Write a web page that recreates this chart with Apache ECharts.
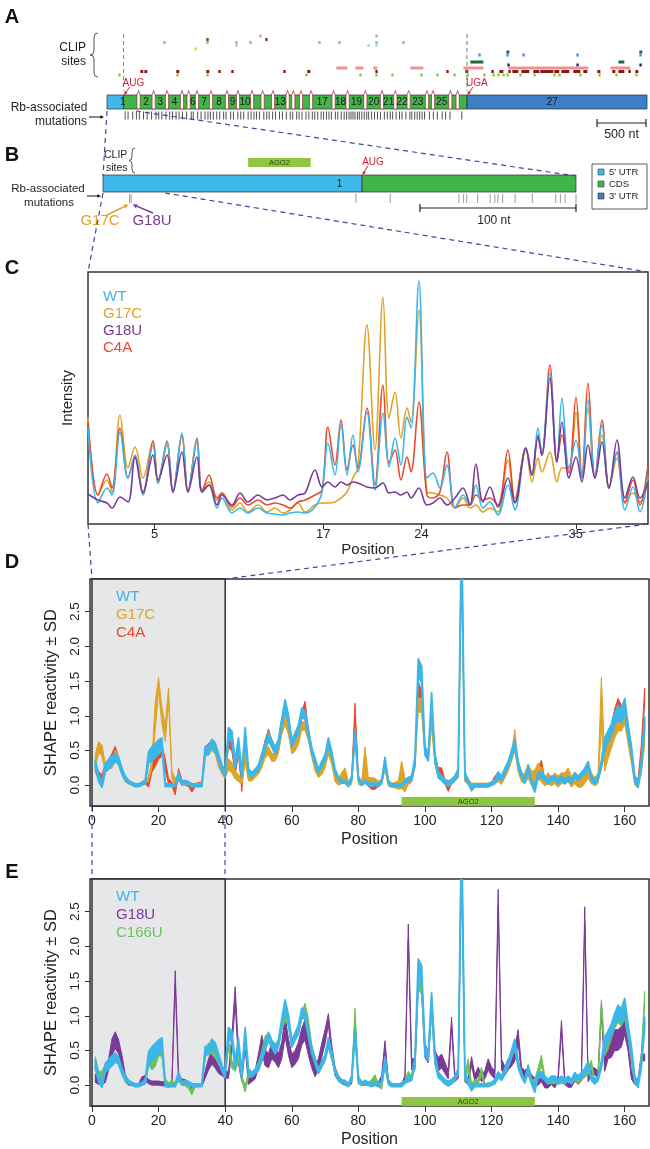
<!DOCTYPE html>
<html><head><meta charset="utf-8">
<script src="https://cdn.jsdelivr.net/npm/echarts@6/dist/echarts.min.js"></script>
<style>html,body{margin:0;padding:0;background:#fff}#c{width:650px;height:1149px}</style>
</head><body><div id="c"></div>
<script>
// ================= DATA =================
// ---- Panel A: RB1 mRNA (nt) ----
const MRNA_LEN = 5510;
const AUG_NT = 169;
const UGA_NT = 3673;
const EXON_STARTS = [0,322,476,612,765,833,918,1061,1224,1337,1480,1588,1694,1843,1901,1980,2082,2312,2455,2636,2806,2942,3078,3265,3327,3503,3578];
const EXON_LABELED = [1,2,3,4,6,7,8,9,10,13,17,18,19,20,21,22,23,25,27];
const MUT_A = [185,215,262,300,330,372,410,455,500,528,560,602,640,668,705,735,770,812,860,880,925,960,1000,1030,1055,1085,1120,1150,1190,1215,1262,1290,1335,1365,1395,1440,1470,1500,1525,1555,1600,1630,1655,1690,1720,1760,1790,1830,1870,1895,1935,1960,1990,2030,2060,2095,2120,2150,2185,2210,2240,2265,2290,2330,2355,2390,2420,2445,2470,2490,2510,2530,2555,2575,2600,2625,2650,2670,2700,2730,2760,2790,2830,2860,2890,2915,2950,2985,3010,3050,3090,3110,3140,3165,3190,3215,3240,3290,3330,3370,3420,3455,3500,3620];
const SCALE_A = [5000, 5500];
// CLIP sites (nt ranges), one array per track
const CLIP_GRAY = [[1554,1575],[2738,2758]];
const CLIP_BROWN = [[1013,1034],[1615,1636]];
const CLIP_GREEN = [[574,595],[1013,1034],[1309,1330],[1452,1473],[2156,2177],[2360,2381],[2738,2758],[3013,3034]];
const CLIP_CYAN = [[1309,1330],[2656,2677],[2738,2758]];
const CLIP_YELLOW = [[891,912]];
const CLIP_TEAL = [[4075,4106],[5432,5462]];
const CLIP_BLUE = [[3789,3810],[4075,4096],[4238,4259],[4789,4810],[5432,5453]];
const CLIP_DKGREEN = [[3707,3840],[5218,5279]];
const CLIP_NAVY = [[4085,4106],[4789,4810],[5432,5453]];
const CLIP_SALMON = [[2340,2452],[2534,2616],[2717,2758],[3095,3228],[3636,3840],[4095,4911],[5136,5340]];
const CLIP_DKRED = [[340,370],[381,411],[707,737],[1013,1044],[1136,1157],[1268,1289],[1799,1820],[2044,2075],[2738,2758],[3462,3483],[3656,3687],[3922,3942],[4003,4044],[4095,4115],[4136,4197],[4228,4309],[4350,4411],[4421,4554],[4564,4615],[4636,4717],[4758,4830],[4860,4901],[5003,5034],[5156,5187],[5218,5279],[5320,5340],[5391,5422]];
const CLIP_LTGREEN = [[115,136],[707,728],[1013,1034],[2023,2044],[2574,2595],[2738,2758],[2901,2922],[3197,3218],[3360,3381],[3534,3555],[3666,3687],[3840,3861],[3932,3952],[3983,4003],[4034,4054],[4075,4095],[4207,4228],[4350,4370],[4554,4575],[4605,4625],[4820,4840],[5013,5034],[5187,5208],[5391,5411]];

// ---- Panel B: exon 1 region (nt) ----
const B_END = 303;
const UTR5_END = 166;
const AGO2_SITE = [93, 133];
const MUT_B = [17,18,162,184,228,231,233,240,248,251,253,256,264,275,290,293,296,303];
const SCALE_B = [203, 303];

// ---- Panel C: capillary trace (position, intensity a.u.) ----
const C_TICKS = [5,17,24,35];
const C_X = [0.25,0.96,1.60,1.96,2.53,3.10,3.60,4.17,4.88,5.24,5.88,6.30,6.94,7.37,8.01,8.37,8.87,9.44,9.79,10.51,11.08,11.64,12.36,13.00,13.57,14.14,14.64,15.21,15.71,16.42,16.92,17.34,17.84,18.27,18.70,19.12,19.48,20.12,20.69,21.26,21.69,22.12,22.54,22.97,23.26,23.82,24.39,24.82,25.32,25.82,26.39,26.96,27.46,27.88,28.38,28.88,29.45,30.16,30.66,31.44,31.87,32.30,32.58,33.15,33.65,34.01,34.51,35.01,35.43,35.86,36.36,36.86,37.36,37.93,38.50,39.07,39.57,40.14];
const WT_C = [48,10.5,18,14.5,46,23,34.5,14.5,39.5,20.5,41,16,45.5,16,42,16,19.5,8,13,5.5,8,5.5,8,5.5,5,4.5,5.5,6,5.5,8.5,16,40.5,24.5,50,24.5,44.5,26,56,17,55.5,28.5,43,29.5,53.5,48,121.5,23,25.5,18,29.5,8,14.5,9.5,19.5,8,11,4.5,19.5,7,38,24.5,48,34.5,75.5,31,63,28,42,23,62,23,49.5,18,36,7,18.5,6,24.5];
const G17C_C = [53.5,14.5,22,16,54.5,28,38.5,23,41.5,20.5,39.5,16,44.5,16,41,17,21,12,15.5,7,10.5,6,9.5,6,8,5.5,7,10.5,6,9.5,10.5,10.5,11,13,16,23,28.5,99.5,37,113.5,53,66,43,58,51,107,16,15.5,14.5,13,8,13,8,9.5,6,8,6,32,13,37,21,33,26,36,21,28,28,56,23,58,23,44.5,18,33,11,15.5,11,23];
const G18U_C = [15,12,10.5,8,13.5,11,33.5,15.5,34.5,22,34.5,16,36,16,33.5,16,19.5,9.5,14.5,9.5,15.5,11,14.5,12,13,14.5,12,14.5,15.5,27,18.5,21,18.5,21,19.5,21,20.5,18.5,18,20.5,15.5,16,14.5,16,13,18,9.5,10.5,13,9.5,13,18,9.5,30,11,18.5,8.5,23,10.5,38,24.5,43.5,34.5,73,31,51,23,33.5,21,39.5,23,41,18,42,13,23.5,13,21];
const C4A_C = [51,14.5,25,18,48,23,33.5,16,41.5,20.5,41.5,16,44.5,16,43,16,24.5,13,15.5,8.5,13,9.5,12,9.5,10.5,9.5,8,11,12,14.5,17,48.5,29.5,52,27,39.5,28,58,19.5,69.5,30.5,37,22,33.5,26,61,14.5,13,16,36,8,9.5,9.5,14.5,12,13,9.5,37,11,38,24.5,44.5,34.5,79.5,31,44.5,25.5,63.5,23,70.5,23,52,18,36,10.5,22,9.5,29.5];

// ---- Panels D/E: SHAPE reactivity, positions 1..166 (mean and SD) ----
const D_TICKS_X = [0,20,40,60,80,100,120,140,160];
const D_TICKS_Y = [0,0.5,1,1.5,2,2.5];
const SHADED = [0, 40];
const WT_M = [0.3,0.1,0,0.25,0.3,0.35,0.4,0.35,0.2,0.1, 0.05,0.02,0,0,0.02,0.05,0.4,0.45,0.5,0.55, 0.6,0,0,0,0,0.15,0.02,0.05,0.03,0, 0,0,0,0.5,0.5,0.6,0.55,0.4,0.25,0.15, 0.75,0.7,0.3,0.6,0.15,0.75,0.2,0.15,0.2,0.25, 0.4,0.55,0.7,0.6,0.5,0.6,0.9,1.15,0.95,0.6, 0.7,0.8,1.05,1.0,0.75,0.5,0.35,0.2,0.3,0.4, 0.62,0.45,0.2,0.1,0.05,0.05,0,0.1,0.75,0.1, 0.02,0.05,0.02,0,0.02,0,0.05,0.35,0.05,0, 0,0,0,0.05,0.08,0.1,0.35,1.7,1.6,0.5, 0.4,1.25,0.4,0.15,0.1,0.05,0.02,0.05,0.1,0.2, 3.6,0.15,0.05,-0.05,0,0,0,0,0,0.02, 0.05,0.15,0.1,0.2,0.3,0.45,0.6,0.3,0.15,0.05, 0.25,0.05,-0.05,0.15,0.15,0.1,0.05,0.1,0.1,0.05, 0.1,0.05,0.1,0.05,0.15,0.1,0.15,0.2,0.3,0.1, 0.05,0.1,0.3,0.6,0.7,0.8,0.95,1.05,1.0,1.15, 0.8,0.5,0.1,0,0.3,0.9];
const WT_SD = [.06,.05,.03,.06,.07,.07,.06,.05,.04,.03, .02,.02,.02,.02,.02,.03,.08,.1,.1,.1, .08,.02,.02,.02,.02,.04,.02,.02,.02,.02, .02,.02,.02,.06,.06,.06,.06,.05,.04,.04, .08,.08,.05,.08,.04,.08,.04,.03,.03,.04, .05,.05,.06,.05,.05,.05,.06,.08,.06,.05, .05,.06,.06,.06,.05,.04,.04,.03,.04,.04, .06,.04,.03,.02,.02,.02,.02,.03,.05,.03, .02,.02,.02,.02,.02,.02,.02,.05,.02,.02, .02,.02,.02,.02,.03,.03,.05,.12,.12,.06, .05,.08,.05,.04,.03,.03,.03,.03,.03,.04, .2,.04,.03,.03,.02,.02,.02,.02,.02,.02, .03,.04,.03,.04,.04,.05,.06,.04,.03,.02, .04,.03,.05,.04,.04,.03,.03,.03,.03,.03, .03,.03,.03,.03,.03,.03,.03,.04,.04,.03, .03,.03,.05,.08,.08,.08,.08,.1,.1,.1, .08,.06,.04,.03,.05,.08];
const G17C_M = [0.35,0.55,0.5,0.25,0.3,0.3,0.45,0.35,0.2,0.08, 0.04,0.02,0,0,0.02,0.04,0.1,0.3,1.0,1.45, 1.0,0.75,1.3,0.15,0.05,0.1,0.02,0.03,0.02,0, 0,0,0,0.45,0.5,0.55,0.5,0.3,0.2,0.15, 0.3,0.25,0.15,0.1,0.05,0.4,0.1,0.1,0.15,0.2, 0.3,0.45,0.5,0.4,0.4,0.5,0.8,0.95,0.8,0.5, 0.55,0.65,0.85,0.85,0.7,0.45,0.25,0.15,0.2,0.3, 0.5,0.35,0.1,0.05,0.1,0.15,0.02,0.05,0.75,0.05, 0.02,0.3,0.05,0.05,0.05,0.02,0.05,0.3,0.02,0, 0,0,0.15,0,0.05,0.08,0.3,1.15,1.15,0.5, 0.4,0.9,0.35,0.15,0.1,0.05,0.03,0.05,0.1,0.15, 3.5,0.1,0.05,0,0,0,0,0,0,0.02, 0.05,0.1,0.05,0.15,0.25,0.4,0.65,0.25,0.1,0.1, 0.2,0.1,0.1,0.2,0.15,0.05,0.1,0.05,0.1,0.05, 0.1,0.1,0.15,0.05,0.1,0.05,0.05,0.1,0.2,0.1, 0.05,0.1,1.2,0.3,0.5,0.65,0.8,0.9,0.9,1.0, 0.7,0.4,0.05,0,0.25,0.7];
const G17C_SD = [.1,.08,.08,.06,.06,.06,.06,.05,.04,.03, .02,.02,.02,.02,.02,.02,.03,.06,.2,.1, .12,.12,.1,.05,.05,.04,.02,.02,.02,.02, .02,.02,.02,.05,.05,.05,.05,.04,.04,.05, .08,.08,.06,.05,.04,.08,.04,.04,.04,.04, .05,.06,.06,.06,.05,.05,.07,.08,.07,.05, .06,.06,.06,.06,.06,.05,.05,.04,.05,.05, .06,.05,.05,.05,.08,.1,.03,.04,.06,.04, .03,.25,.06,.06,.05,.04,.04,.08,.04,.03, .04,.06,.2,.1,.04,.04,.05,.1,.1,.06, .05,.08,.05,.04,.04,.04,.04,.04,.04,.05, .2,.05,.04,.03,.03,.03,.03,.03,.03,.03, .03,.05,.04,.05,.05,.06,.15,.06,.05,.08, .1,.1,.12,.12,.1,.06,.08,.06,.08,.08, .08,.08,.1,.08,.08,.08,.08,.08,.1,.08, .06,.08,.35,.1,.12,.12,.12,.12,.12,.12, .1,.08,.05,.04,.08,.12];
const C4A_M = [0.25,0.15,0.1,0.25,0.3,0.4,0.5,0.35,0.2,0.08, 0.04,0.02,0,0,0.02,0.04,0,0.25,0.35,0.45, 0.5,0.3,0.05,0.02,-0.1,0.2,0.05,0.02,0,-0.07, 0,0.02,0.02,0.5,0.55,0.6,0.55,0.4,0.25,0.2, 0.6,0.55,0.2,0.5,-0.05,0.6,0.15,0.15,0.2,0.25, 0.4,0.6,0.75,0.6,0.5,0.6,0.9,1.1,0.9,0.6, 0.7,0.8,1.0,1.15,0.75,0.5,0.3,0.15,0.25,0.35, 0.6,0.4,0.15,0.1,0.05,0.05,0,0.1,1.1,0.1, 0.02,0.05,0,-0.03,-0.03,0,0.05,0.35,0.05,0, 0,0,0,0.05,0.08,0.1,0.3,1.4,1.25,0.5, 0.4,1.1,0.4,0.2,0.2,0.05,-0.05,0.05,0.1,0.2, 3.5,0.1,0.05,-0.05,0,0,0,0,0,0.02, 0.1,0.15,0.1,0.2,0.3,0.45,0.55,0.3,0.15,0.05, 0.25,0.05,0,0.2,0.3,0.05,0.05,0.1,0.1,0.05, 0.1,0.05,0.1,0.05,0.15,0.1,0.15,0.2,0.25,0.1, 0.05,0.1,0.3,0.55,0.7,0.8,1.0,1.15,1.05,1.0, 0.8,0.5,0.1,0.05,0.5,1.3];
const C4A_SD = [.06,.05,.05,.06,.06,.06,.06,.05,.04,.03, .02,.02,.02,.02,.02,.02,.03,.06,.08,.08, .08,.08,.04,.03,.04,.04,.03,.02,.02,.03, .02,.02,.02,.05,.05,.05,.05,.05,.04,.04, .06,.06,.05,.06,.04,.06,.04,.03,.03,.04, .05,.05,.06,.05,.05,.05,.06,.07,.06,.05, .05,.06,.06,.06,.05,.04,.04,.03,.04,.04, .05,.04,.03,.02,.02,.02,.02,.03,.08,.03, .02,.02,.02,.03,.03,.02,.02,.04,.02,.02, .02,.02,.02,.02,.03,.03,.04,.1,.1,.06, .05,.08,.05,.05,.05,.03,.04,.03,.03,.04, .2,.04,.03,.03,.02,.02,.02,.02,.02,.02, .03,.04,.03,.04,.04,.05,.06,.04,.03,.02, .04,.03,.04,.05,.06,.03,.03,.03,.03,.03, .03,.03,.03,.03,.03,.03,.03,.04,.04,.03, .03,.03,.05,.08,.08,.08,.1,.1,.1,.1, .08,.06,.04,.03,.08,.1];
const G18U_M = [0.1,0.05,0.05,0.1,0.3,0.55,0.65,0.55,0.35,0.1, 0.03,0.02,0,0,0.08,0.1,0.05,0.03,0.03,0.03, 0.02,0.02,0,0.02,1.55,0.1,0.05,0.05,0.02,-0.05, 0,0,0,0.15,0.3,0.4,0.35,0.25,0.2,0.15, 0.15,0.6,1.3,0.4,0.1,0.65,0.05,0.1,0.15,0.35, 0.6,0.4,0.35,0.5,0.45,0.35,0.5,0.85,0.55,0.35, 0.4,0.5,0.7,0.8,0.55,0.35,0.2,0.3,0.5,0.7, 0.95,0.5,0.2,0.1,0.05,0.03,0,0.05,0.9,0.05, 0.02,0.02,0.02,0.02,0.02,0.02,0.1,0.58,0.05,0, 0,0,0,0.1,2.2,0.3,0.3,1.5,1.5,0.5, 0.4,1.2,0.4,0.3,0.35,0.25,0.15,0.9,0.1,0.15, 3.5,0.1,0.05,0.35,0.1,0.2,0.1,0.15,0.3,0.2, 0.15,2.7,0.3,0.2,0.3,0.35,0.45,0.7,0.2,0.15, 0.2,0.1,0.05,0.05,0.1,0,0,0.05,0,0.1, 0.85,0.05,0,0,0.1,0.05,0.1,2.45,0.1,0.2, 0.2,0.15,1.1,0.3,0.5,0.55,0.65,0.65,0.7,0.85, 0.6,0.15,0.05,0.05,0.4,0.4];
const G18U_SD = [.06,.04,.04,.06,.08,.12,.12,.1,.08,.05, .03,.02,.02,.02,.04,.04,.03,.03,.03,.03, .03,.03,.03,.03,.1,.05,.04,.03,.03,.03, .02,.02,.02,.05,.08,.1,.1,.08,.06,.05, .05,.1,.12,.1,.05,.12,.04,.05,.06,.1, .12,.12,.1,.12,.12,.1,.12,.15,.12,.1, .1,.12,.12,.15,.12,.1,.08,.08,.1,.1, .08,.08,.06,.04,.03,.03,.02,.03,.08,.03, .02,.02,.02,.02,.02,.02,.04,.06,.03,.02, .02,.02,.02,.04,.12,.08,.08,.1,.1,.1, .08,.1,.1,.1,.1,.08,.06,.08,.05,.05, .2,.05,.04,.06,.05,.06,.05,.06,.08,.06, .06,.12,.08,.06,.08,.08,.1,.1,.06,.06, .06,.05,.05,.05,.05,.04,.04,.04,.04,.04, .08,.04,.03,.03,.04,.04,.04,.12,.05,.05, .05,.05,.08,.1,.12,.15,.15,.15,.15,.12, .1,.06,.04,.04,.05,.05];
const C166U_M = [0.35,0.15,0.15,0.25,0.3,0.35,0.4,0.35,0.2,0.08, 0.04,0.02,0,0,0.02,0.05,0.35,0.3,0.35,0.5, 0.5,0.05,0,0.05,0,0.1,0.03,0.02,-0.02,-0.1, 0,0,0,0.45,0.55,0.5,0.45,0.35,0.25,0.15, 0.6,0.3,0.25,0.4,0.1,-0.05,0.15,0.15,0.2,0.3, 0.45,0.65,0.7,0.6,0.55,0.6,0.85,1.0,0.9,0.6, 0.7,0.8,1.0,1.1,0.9,0.55,0.35,0.2,0.3,0.4, 0.6,0.4,0.2,0.1,0.05,0.03,0,0.1,1.05,0.05, 0.02,0.02,0.02,0.05,0.1,0,-0.03,0.3,0.02,0, 0,0,0.02,0.05,0.15,0.1,0.3,1.5,1.4,0.5, 0.4,1.1,0.35,0.15,0.1,0.05,0.03,0.05,0.1,0.2, 3.5,0.1,0.3,0,0.05,0.05,0.2,0,0.02,0.02, 0.05,0.15,0.1,0.2,0.3,0.45,0.55,0.3,0.15,0.05, 0.2,0.05,0.05,0.2,0.35,0.1,0.05,0.05,0.05,0.05, 0.05,0.05,0.1,0.05,0.1,0.05,0.1,0.15,0.2,0.3, 0.05,0.1,1.15,0.5,0.6,0.75,0.9,1.0,0.95,1.05, 0.75,0.4,0.05,0,0.4,1.25];
const C166U_SD = [.06,.05,.05,.06,.06,.06,.06,.05,.04,.03, .02,.02,.02,.02,.02,.02,.06,.08,.08,.08, .08,.05,.03,.03,.03,.03,.03,.03,.03,.04, .02,.02,.02,.06,.06,.06,.06,.05,.04,.04, .06,.06,.05,.06,.04,.05,.04,.03,.03,.04, .05,.06,.06,.05,.05,.05,.06,.08,.06,.05, .05,.06,.06,.08,.06,.04,.04,.03,.04,.04, .05,.04,.03,.02,.02,.02,.02,.03,.06,.03, .02,.02,.02,.03,.05,.02,.03,.04,.02,.02, .02,.02,.02,.02,.05,.03,.04,.1,.1,.06, .05,.08,.05,.04,.03,.03,.03,.03,.03,.04, .2,.04,.08,.03,.03,.03,.06,.02,.02,.02, .03,.04,.03,.04,.04,.05,.06,.04,.03,.02, .04,.03,.04,.05,.08,.03,.03,.03,.03,.03, .03,.03,.03,.03,.03,.03,.03,.04,.05,.06, .03,.03,.08,.08,.08,.08,.08,.1,.1,.1, .08,.06,.04,.03,.06,.1];

// ================= STYLE / LAYOUT =================
const FONT = '"Liberation Sans", Arial, Helvetica, sans-serif';
const INK = '#231f20';
const COL = {WT:'#3cb6e9', G17C:'#dea427', G18U:'#7b3a96', C4A:'#e84a2b', C166U:'#6fc05a'};
const REGION_COLORS = ['#3fb8ea', '#41b549', '#3d7ec5'];
const CLIP_TRACKS = [CLIP_GRAY, CLIP_BROWN, CLIP_GREEN, CLIP_CYAN, CLIP_YELLOW, CLIP_TEAL, CLIP_BLUE, CLIP_DKGREEN, CLIP_NAVY, CLIP_SALMON, CLIP_DKRED, CLIP_LTGREEN];
const CLIP_COLORS = ['#b3b3b3','#8b3b1c','#98c95a','#a6dde8','#f2cf1d','#1f5f5c','#4a8fd0','#1b6b3a','#1d2b79','#f0918c','#8b1717','#8dc63f'];
const LA = {barY:95, barH:14, mutY0:111.5, mutY1:119.5, trackY:[36,39.5,42.5,45.5,49,52,55,62,65,68,71.5,75], dashTop:34, dashBot:91, labelY:83, scaleY:123};
const LB = {barY:175, barH:17, mutY0:194, mutY1:203, agoY:158, agoH:9, labelY:162, scaleY:208};
const RED = '#d3203b';

// ================= BUILD =================
const CLIP_ITEMS = [];
CLIP_TRACKS.forEach((arr, t) => arr.forEach(r => CLIP_ITEMS.push([r[0], r[1], t])));
const POS = WT_M.map((_, i) => i + 1);

function arrowEls(x1, y1, x2, y2, color, w, h) {
  const ang = Math.atan2(y2 - y1, x2 - x1), a = 0.45;
  const p1 = [x2 - h * Math.cos(ang - a), y2 - h * Math.sin(ang - a)];
  const p2 = [x2 - h * Math.cos(ang + a), y2 - h * Math.sin(ang + a)];
  return [
    {type:'line', shape:{x1, y1, x2: x2 - 0.6 * h * Math.cos(ang), y2: y2 - 0.6 * h * Math.sin(ang)}, style:{stroke:color, lineWidth:w}},
    {type:'polygon', shape:{points:[[x2, y2], p1, p2]}, style:{fill:color}}
  ];
}
function txtEl(x, y, text, size, fill, align, weight) {
  return {type:'text', x, y, style:{text, fill: fill || INK, font: (weight ? weight + ' ' : '') + size + 'px ' + FONT, align: align || 'center', verticalAlign:'middle'}};
}
const cx = (api, v) => api.coord([v, 0])[0];

const series = [];
// ---- Panel A ----
series.push({type:'custom', xAxisIndex:0, yAxisIndex:0, silent:true, z:3, data: CLIP_ITEMS,
  renderItem:(p, api) => { const a = cx(api, api.value(0)), b = cx(api, api.value(1)), t = api.value(2);
    return {type:'rect', shape:{x:a, y:LA.trackY[t] - 1.5, width:Math.max(b - a, 2.4), height:3}, style:{fill:CLIP_COLORS[t]}}; }});
series.push({type:'custom', xAxisIndex:0, yAxisIndex:0, silent:true, z:3,
  data: [[0, AUG_NT, 0], [AUG_NT, UGA_NT, 1], [UGA_NT, MRNA_LEN, 2]],
  renderItem:(p, api) => { const a = cx(api, api.value(0)), b = cx(api, api.value(1));
    return {type:'rect', shape:{x:a, y:LA.barY, width:b - a, height:LA.barH}, style:{fill:REGION_COLORS[api.value(2)], stroke:'#2b2b2b', lineWidth:0.7}}; }});
series.push({type:'custom', xAxisIndex:0, yAxisIndex:0, silent:true, z:4,
  data: EXON_STARTS.slice(1).map(s => [s, 0]),
  renderItem:(p, api) => { const x = cx(api, api.value(0)), t = LA.barY, b = LA.barY + LA.barH;
    return {type:'polygon', shape:{points:[[x - 1.6, b], [x - 1.6, t], [x, t - 4.5], [x + 1.6, t], [x + 1.6, b]]}, style:{fill:'#fff', stroke:'#9b2a2a', lineWidth:0.7}}; }});
series.push({type:'custom', xAxisIndex:0, yAxisIndex:0, silent:true, z:5,
  data: EXON_LABELED.map(n => [(EXON_STARTS[n - 1] + (n < EXON_STARTS.length ? EXON_STARTS[n] : MRNA_LEN)) / 2, n]),
  renderItem:(p, api) => txtEl(cx(api, api.value(0)), LA.barY + LA.barH / 2 + 0.5, String(api.value(1)), 10, '#1a1a1a')});
series.push({type:'custom', xAxisIndex:0, yAxisIndex:0, silent:true, z:3,
  data: MUT_A.map(v => [v, 0]),
  renderItem:(p, api) => { const x = cx(api, api.value(0));
    return {type:'line', shape:{x1:x, y1:LA.mutY0, x2:x, y2:LA.mutY1}, style:{stroke:'#3a3a3a', lineWidth:0.9}}; }});
series.push({type:'custom', xAxisIndex:0, yAxisIndex:0, silent:true, z:6,
  data: [[AUG_NT, 0], [UGA_NT, 0]],
  renderItem:(p, api) => { const x = cx(api, api.value(0));
    return {type:'group', children:[
      {type:'line', shape:{x1:x, y1:LA.dashTop, x2:x, y2:LA.dashBot}, style:{stroke:'#7a7a7a', lineWidth:1, lineDash:[4, 3]}},
      txtEl(x - 1, LA.labelY, p.dataIndex === 0 ? 'AUG' : 'UGA', 10, RED, 'left'),
      ...arrowEls(x + 6, 87, x + 0.5, 95, RED, 1, 4)
    ]}; }});
series.push({type:'custom', xAxisIndex:0, yAxisIndex:0, silent:true, z:6,
  data: [SCALE_A],
  renderItem:(p, api) => { const a = cx(api, api.value(0)), b = cx(api, api.value(1)), y = LA.scaleY;
    return {type:'group', children:[
      {type:'line', shape:{x1:a, y1:y, x2:b, y2:y}, style:{stroke:'#222', lineWidth:1.2}},
      {type:'line', shape:{x1:a, y1:y - 4, x2:a, y2:y + 4}, style:{stroke:'#222', lineWidth:1.2}},
      {type:'line', shape:{x1:b, y1:y - 4, x2:b, y2:y + 4}, style:{stroke:'#222', lineWidth:1.2}},
      txtEl((a + b) / 2, y + 12, (SCALE_A[1] - SCALE_A[0]) + ' nt', 12.5)
    ]}; }});

// ---- Panel B ----
series.push({type:'custom', xAxisIndex:1, yAxisIndex:1, silent:true, z:3,
  data: [[0, UTR5_END, 0], [UTR5_END, B_END, 1]],
  renderItem:(p, api) => { const a = cx(api, api.value(0)), b = cx(api, api.value(1));
    return {type:'rect', shape:{x:a, y:LB.barY, width:b - a, height:LB.barH}, style:{fill:REGION_COLORS[api.value(2)], stroke:'#2b2b2b', lineWidth:0.7}}; }});
series.push({type:'custom', xAxisIndex:1, yAxisIndex:1, silent:true, z:5,
  data: [[B_END / 2, 1]],
  renderItem:(p, api) => txtEl(cx(api, api.value(0)), LB.barY + LB.barH / 2 + 0.5, String(api.value(1)), 10, '#1a1a1a')});
series.push({type:'custom', xAxisIndex:1, yAxisIndex:1, silent:true, z:5,
  data: [AGO2_SITE],
  renderItem:(p, api) => { const a = cx(api, api.value(0)), b = cx(api, api.value(1));
    return {type:'group', children:[
      {type:'rect', shape:{x:a, y:LB.agoY, width:b - a, height:LB.agoH}, style:{fill:'#8dc63f'}},
      txtEl((a + b) / 2, LB.agoY + LB.agoH / 2, 'AGO2', 7.5, '#2d4a12')]}; }});
series.push({type:'custom', xAxisIndex:1, yAxisIndex:1, silent:true, z:3,
  data: MUT_B.map(v => [v, 0]),
  renderItem:(p, api) => { const x = cx(api, api.value(0));
    return {type:'line', shape:{x1:x, y1:LB.mutY0, x2:x, y2:LB.mutY1}, style:{stroke:'#9a9a9a', lineWidth:1}}; }});
series.push({type:'custom', xAxisIndex:1, yAxisIndex:1, silent:true, z:6,
  data: [[UTR5_END, 0]],
  renderItem:(p, api) => { const x = cx(api, api.value(0));
    return {type:'group', children:[txtEl(x, LB.labelY, 'AUG', 10, RED, 'left'), ...arrowEls(x + 5.5, 166, x + 0.5, 175, RED, 1, 4)]}; }});
series.push({type:'custom', xAxisIndex:1, yAxisIndex:1, silent:true, z:6,
  data: [SCALE_B],
  renderItem:(p, api) => { const a = cx(api, api.value(0)), b = cx(api, api.value(1)), y = LB.scaleY;
    return {type:'group', children:[
      {type:'line', shape:{x1:a, y1:y, x2:b, y2:y}, style:{stroke:'#222', lineWidth:1.2}},
      {type:'line', shape:{x1:a, y1:y - 4, x2:a, y2:y + 4}, style:{stroke:'#222', lineWidth:1.2}},
      {type:'line', shape:{x1:b, y1:y - 4, x2:b, y2:y + 4}, style:{stroke:'#222', lineWidth:1.2}},
      txtEl((a + b) / 2 - 4, y + 13, (SCALE_B[1] - SCALE_B[0]) + ' nt', 12)
    ]}; }});
series.push({type:'custom', xAxisIndex:1, yAxisIndex:1, silent:true, z:6,
  data: [[17, 0], [18, 0]],
  renderItem:(p, api) => { const x = cx(api, api.value(0));
    if (p.dataIndex === 0) return {type:'group', children:[txtEl(100, 221, 'G17C', 15, COL.G17C), ...arrowEls(105, 216, x - 1, 204.5, COL.G17C, 1.4, 5)]};
    return {type:'group', children:[txtEl(152, 221, 'G18U', 15, COL.G18U), ...arrowEls(153, 213, x + 1.5, 204.5, COL.G18U, 1.4, 5)]}; }});

// ---- Panel C ----
[['G17C', G17C_C], ['C4A', C4A_C], ['WT', WT_C], ['G18U', G18U_C]].forEach(([k, arr]) => {
  series.push({type:'line', name:k, xAxisIndex:2, yAxisIndex:2, data: C_X.map((x, i) => [x, arr[i]]), smooth:0.35, symbol:'none', silent:true, lineStyle:{color:COL[k], width:1.6}, z:3});
});

// ---- Panels D & E ----
function shadeSeries(ax) {
  return {type:'custom', xAxisIndex:ax, yAxisIndex:ax, silent:true, z:1, data:[SHADED],
    renderItem:(p, api) => { const a = api.coord([api.value(0), 2.97]), b = api.coord([api.value(1), -0.3]);
      return {type:'rect', shape:{x:a[0], y:a[1], width:b[0] - a[0], height:b[1] - a[1]}, style:{fill:'#e6e7e8', stroke:'#222', lineWidth:1.4}}; }};
}
function agoSeries(ax) {
  return {type:'custom', xAxisIndex:ax, yAxisIndex:ax, silent:true, z:8, data:[AGO2_SITE],
    renderItem:(p, api) => { const a = api.coord([api.value(0), -0.17]), b = api.coord([api.value(1), -0.3]);
      return {type:'group', children:[
        {type:'rect', shape:{x:a[0], y:a[1], width:b[0] - a[0], height:b[1] - a[1]}, style:{fill:'#8dc63f'}},
        txtEl((a[0] + b[0]) / 2, (a[1] + b[1]) / 2, 'AGO2', 7.5, '#2d4a12')]}; }};
}
// mean ± SD ribbon, drawn through the axis scales
function bandSeries(mean, sd, color, ax, lw) {
  return {type:'custom', xAxisIndex:ax, yAxisIndex:ax, silent:true, z:3, data:[[POS[0], mean[0]]],
    renderItem:(p, api) => {
      const up = [], lo = [];
      POS.forEach((x, i) => { up.push(api.coord([x, mean[i] + sd[i]])); lo.push(api.coord([x, mean[i] - sd[i]])); });
      const cs = p.coordSys;
      return {type:'group', clipPath:{type:'rect', shape:{x:cs.x, y:cs.y, width:cs.width, height:cs.height}}, children:[
        {type:'polygon', shape:{points: up.concat(lo.slice().reverse())}, style:{fill:color, stroke:color, lineWidth:lw, lineJoin:'round'}}
      ]};
    }};
}
series.push(shadeSeries(3));
series.push(bandSeries(C4A_M, C4A_SD, COL.C4A, 3, 1));
series.push(bandSeries(G17C_M, G17C_SD, COL.G17C, 3, 1));
series.push(bandSeries(WT_M, WT_SD, COL.WT, 3, 1.8));
series.push(agoSeries(3));
series.push(shadeSeries(4));
series.push(bandSeries(G18U_M, G18U_SD, COL.G18U, 4, 1));
series.push(bandSeries(C166U_M, C166U_SD, COL.C166U, 4, 1));
series.push(bandSeries(WT_M, WT_SD, COL.WT, 4, 1.8));
series.push(agoSeries(4));

// ---- axes ----
const hiddenX = (g, max) => ({gridIndex:g, type:'value', min:0, max, show:false});
const hiddenY = g => ({gridIndex:g, type:'value', min:0, max:1, show:false});
function shapeX(g) {
  return {gridIndex:g, type:'value', position:'bottom', min:-0.6, max:167.3, axisLine:{show:false, onZero:false}, splitLine:{show:false},
    axisTick:{show:true, customValues:D_TICKS_X, length:6, lineStyle:{color:'#333', width:1}},
    axisLabel:{customValues:D_TICKS_X, fontSize:14, color:INK, fontFamily:FONT, margin:8},
    name:'Position', nameLocation:'middle', nameGap:26, nameTextStyle:{fontSize:16, color:INK, fontFamily:FONT}};
}
function shapeY(g) {
  return {gridIndex:g, type:'value', position:'left', min:-0.3, max:2.97, axisLine:{show:false, onZero:false}, splitLine:{show:false},
    axisTick:{show:true, customValues:D_TICKS_Y, length:5, lineStyle:{color:'#333', width:1}},
    axisLabel:{customValues:D_TICKS_Y, rotate:90, fontSize:13.5, color:INK, fontFamily:FONT, margin:8, formatter:v => v.toFixed(1)},
    name:'SHAPE reactivity \u00b1 SD', nameLocation:'middle', nameGap:30, nameRotate:90, nameTextStyle:{fontSize:16.5, color:INK, fontFamily:FONT}};
}
const boxGrid = {show:true, borderColor:'#333', borderWidth:1.5, backgroundColor:'transparent'};

// ---- annotations ----
const G = [];
const T = (x, y, text, size, fill, align, weight) => Object.assign(txtEl(x, y, text, size, fill, align, weight), {z:100, silent:true});
const dash = (x1, y1, x2, y2) => ({type:'line', z:90, silent:true, shape:{x1, y1, x2, y2}, style:{stroke:'#3b4a9a', lineWidth:1.2, lineDash:[5, 4]}});
function brace(x, y0, y1, w) {
  const m = (y0 + y1) / 2, xi = x + w * 0.5, xr = x + w, s = o => Object.assign({z:100, silent:true}, o);
  const st = {stroke:'#444', lineWidth:0.9, fill:null};
  return [
    s({type:'bezierCurve', shape:{x1:xr, y1:y0, cpx1:xi, cpy1:y0, x2:xi, y2:y0 + 4}, style:st}),
    s({type:'line', shape:{x1:xi, y1:y0 + 4, x2:xi, y2:m - 4}, style:st}),
    s({type:'bezierCurve', shape:{x1:xi, y1:m - 4, cpx1:xi, cpy1:m, x2:x, y2:m}, style:st}),
    s({type:'bezierCurve', shape:{x1:x, y1:m, cpx1:xi, cpy1:m, x2:xi, y2:m + 4}, style:st}),
    s({type:'line', shape:{x1:xi, y1:m + 4, x2:xi, y2:y1 - 4}, style:st}),
    s({type:'bezierCurve', shape:{x1:xi, y1:y1 - 4, cpx1:xi, cpy1:y1, x2:xr, y2:y1}, style:st})
  ];
}
const panelLetter = (x, y, t) => T(x, y, t, 20, '#111', 'center', 'bold');
G.push(panelLetter(12, 17, 'A'), panelLetter(12, 155, 'B'), panelLetter(12, 268, 'C'), panelLetter(12, 562, 'D'), panelLetter(12, 872, 'E'));
// A labels
G.push(T(86, 48, 'CLIP', 12, INK, 'right'), T(86, 62, 'sites', 12, INK, 'right'), ...brace(90, 33, 77, 8));
G.push(T(49, 108, 'Rb-associated', 12), T(61, 122, 'mutations', 12));
G.push(...arrowEls(89, 117, 104, 117, '#111', 1, 4).map(e => Object.assign(e, {z:100, silent:true})));
// B labels
G.push(T(104, 155, 'CLIP', 10.5, INK, 'left'), T(106, 168, 'sites', 10.5, INK, 'left'), ...brace(129, 148, 173, 6));
G.push(T(48, 189, 'Rb-associated', 11.5), T(49, 203, 'mutations', 11.5));
G.push(...arrowEls(87, 196, 101, 196, '#111', 1, 4).map(e => Object.assign(e, {z:100, silent:true})));
// B legend
G.push({type:'rect', z:100, silent:true, shape:{x:592, y:164, width:55, height:45}, style:{fill:'#fff', stroke:'#333', lineWidth:0.8}});
[['5\' UTR', 0, 172], ['CDS', 1, 184], ['3\' UTR', 2, 196]].forEach(([t, c, y]) => {
  G.push({type:'rect', z:101, silent:true, shape:{x:598, y:y - 3, width:6, height:6}, style:{fill:REGION_COLORS[c], stroke:'#333', lineWidth:0.6}});
  G.push(T(609, y, t, 9.5, INK, 'left'));
});
// legends C, D, E
[['WT', 297], ['G17C', 314], ['G18U', 331], ['C4A', 348]].forEach(([k, y]) => G.push(T(103, y, k, 15, COL[k], 'left')));
[['WT', 597], ['G17C', 615], ['C4A', 633]].forEach(([k, y]) => G.push(T(116, y, k, 15, COL[k], 'left')));
[['WT', 897], ['G18U', 915], ['C166U', 933]].forEach(([k, y]) => G.push(T(116, y, k, 15, COL[k], 'left')));
// zoom connectors
G.push(dash(107, 111, 103, 176), dash(136, 111, 576, 176));
G.push(dash(103, 193, 88, 272), dash(165, 193, 648, 272));
G.push(dash(88, 524, 92, 579), dash(648, 524, 225, 579));
G.push(dash(92, 806, 92, 879), dash(225, 806, 225, 879));

const option = {
  animation:false,
  backgroundColor:'#fff',
  textStyle:{fontFamily:FONT},
  grid:[
    {left:107, top:30, width:540, height:95},
    {left:103, top:140, width:473, height:80},
    Object.assign({left:88, top:272, width:560, height:252}, boxGrid),
    Object.assign({left:90, top:579, width:559, height:227}, boxGrid),
    Object.assign({left:90, top:879, width:559, height:227}, boxGrid)
  ],
  xAxis:[
    hiddenX(0, MRNA_LEN), hiddenX(1, B_END),
    {gridIndex:2, type:'value', position:'bottom', min:0.25, max:40.14, axisLine:{show:false, onZero:false}, splitLine:{show:false},
      axisTick:{show:true, customValues:C_TICKS, length:5, lineStyle:{color:'#333'}},
      axisLabel:{customValues:C_TICKS, fontSize:13, color:INK, fontFamily:FONT, margin:4},
      name:'Position', nameLocation:'middle', nameGap:17, nameTextStyle:{fontSize:15, color:INK, fontFamily:FONT}},
    shapeX(3), shapeX(4)
  ],
  yAxis:[
    hiddenY(0), hiddenY(1),
    {gridIndex:2, type:'value', min:0, max:126, axisLine:{show:false, onZero:false}, axisTick:{show:false}, axisLabel:{show:false}, splitLine:{show:false},
      name:'Intensity', nameLocation:'middle', nameGap:13, nameRotate:90, nameTextStyle:{fontSize:15, color:INK, fontFamily:FONT}},
    shapeY(3), shapeY(4)
  ],
  graphic:{elements:G},
  series
};
const chart = echarts.init(document.getElementById('c'), null, {renderer:'canvas', width:650, height:1149});
chart.setOption(option);
</script></body></html>
